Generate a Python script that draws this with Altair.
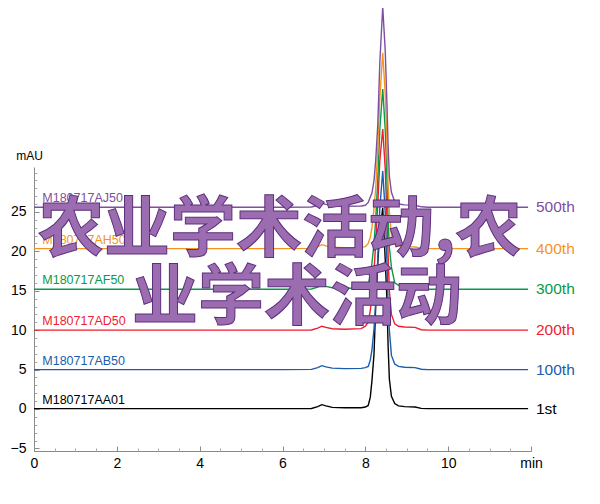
import altair as alt
import pandas as pd

# ---- data -------------------------------------------------------------
T = [0.0, 1.0, 2.0, 3.0, 4.0, 5.0, 6.0, 6.7, 6.85, 6.95, 7.05, 7.2, 7.5,
     7.9, 8.0, 8.07, 8.12, 8.16, 8.21, 8.25, 8.30, 8.35, 8.42, 8.48, 8.52,
     8.55, 8.58, 8.63, 8.71, 8.8, 8.95, 9.2, 9.35, 9.5, 10.0, 11.0, 11.93]

V_1ST = [0.05, 0.05, 0.05, 0.05, 0.05, 0.05, 0.05, 0.07, 0.3, 0.55, 0.4, 0.2, 0.15,
         0.15, 0.25, 0.45, 1.5, 3.6, 7.0, 13.0, 18.5, 22.5, 25.5, 19.0, 14.0,
         8.0, 3.8, 1.6, 0.7, 0.4, 0.3, 0.25, 0.08, 0.05, 0.05, 0.05, 0.05]
V_100 = [5.0, 5.0, 5.0, 5.0, 5.0, 5.0, 5.0, 5.02, 5.25, 5.5, 5.35, 5.18, 5.12,
         5.15, 5.25, 5.4, 6.2, 7.5, 10.2, 13.5, 19.0, 25.5, 30.2, 25.0, 19.0,
         13.5, 10.0, 6.8, 5.7, 5.4, 5.3, 5.25, 5.05, 5.0, 5.0, 5.0, 5.0]
V_200 = [10.0, 10.0, 10.0, 10.0, 10.0, 10.0, 10.0, 10.02, 10.25, 10.5, 10.35, 10.18, 10.12,
         10.2, 10.5, 11.0, 12.5, 14.5, 17.5, 21.0, 26.0, 31.5, 35.5, 30.5, 24.5,
         19.5, 15.0, 12.0, 10.8, 10.5, 10.4, 10.35, 10.05, 10.0, 10.0, 10.0, 10.0]
V_300 = [15.2, 15.2, 15.2, 15.2, 15.2, 15.2, 15.2, 15.22, 15.45, 15.7, 15.55, 15.38, 15.32,
         15.35, 15.5, 15.8, 17.0, 18.5, 21.0, 24.0, 29.0, 35.5, 40.6, 35.5, 29.5,
         24.0, 20.5, 18.0, 16.0, 15.7, 15.6, 15.5, 15.25, 15.2, 15.2, 15.2, 15.2]
V_400 = [20.35, 20.35, 20.35, 20.35, 20.35, 20.35, 20.35, 20.37, 20.6, 20.85, 20.7, 20.53, 20.47,
         20.5, 20.6, 21.0, 21.8, 23.0, 25.5, 28.0, 33.0, 39.5, 45.2, 40.0, 34.0,
         28.5, 25.0, 22.0, 20.9, 20.7, 20.6, 20.55, 20.4, 20.35, 20.35, 20.35, 20.35]
V_500 = [25.6, 25.6, 25.6, 25.6, 25.6, 25.6, 25.6, 25.62, 25.85, 26.1, 25.95, 25.78, 25.72,
         25.75, 25.85, 26.2, 26.9, 27.4, 29.0, 31.5, 36.0, 44.0, 51.0, 45.5, 39.0,
         33.5, 29.5, 27.5, 26.3, 26.0, 25.9, 25.85, 25.65, 25.6, 25.6, 25.6, 25.6]

SERIES = ["1st", "100th", "200th", "300th", "400th", "500th"]
SAMPLES = ["M180717AA01", "M180717AB50", "M180717AD50", "M180717AF50", "M180717AH50", "M180717AJ50"]
BASELINES = [0.05, 5.0, 10.0, 15.2, 20.35, 25.6]
COLORS = ["#000000", "#1a5dab", "#ee1d2f", "#0a9a48", "#f7941e", "#7f4f9f"]

X_LABELS = [0, 2, 4, 6, 8, 10, 12]
X_MINOR = [0.5, 1, 1.5, 2.5, 3, 3.5, 4.5, 5, 5.5, 6.5, 7, 7.5, 8.5, 9, 9.5, 10.5, 11, 11.5]
Y_LABELS = [-5, 0, 5, 10, 15, 20, 25]
Y_MINOR = [-4, -3, -2, -1, 1, 2, 3, 4, 6, 7, 8, 9, 11, 12, 13, 14, 16, 17, 18, 19,
           21, 22, 23, 24, 26, 27, 28, 29, 30]

WATERMARK_1 = "农业学术活动,农"
WATERMARK_2 = "业学术活动"

# ---- tables -------------------------------------------------------------
VALUES = [V_1ST, V_100, V_200, V_300, V_400, V_500]
rows = []
for s, vals in zip(SERIES, VALUES):
    for t, v in zip(T, vals):
        rows.append({"t": t, "v": v, "series": s})
df = pd.DataFrame(rows)

lab = pd.DataFrame({"series": SERIES, "sample": SAMPLES, "base": BASELINES})
lab["lx"] = 0.2
lab["rx"] = 12.0
one = pd.DataFrame({"t": [0.0], "v": [0.0]})

FONT = "Liberation Sans"
AXIS_GRAY = "#8a8a8a"
xs = alt.Scale(domain=[0, 12], nice=False, zero=False)
ys = alt.Scale(domain=[-5.33, 30.7], nice=False, zero=False)
col = alt.Color("series:N", scale=alt.Scale(domain=SERIES, range=COLORS), legend=None)

lines = alt.Chart(df).mark_line(strokeWidth=1.4).encode(
    x=alt.X("t:Q", scale=xs, axis=alt.Axis(
        orient="bottom", values=X_LABELS, ticks=False, grid=False,
        labelExpr="datum.value == 12 ? 'min' : datum.label",
        labelFlush=False, labelOverlap=False, labelFont=FONT, labelFontSize=14,
        labelColor="#000", labelPadding=5, domainColor=AXIS_GRAY, title=None)),
    y=alt.Y("v:Q", scale=ys, axis=alt.Axis(
        orient="left", values=Y_LABELS, ticks=False, grid=False,
        labelFont=FONT, labelFontSize=14, labelColor="#000", labelPadding=8,
        labelOverlap=False, domainColor=AXIS_GRAY,
        title="mAU", titleAngle=0, titleX=-5, titleY=-5, titleAlign="center",
        titleBaseline="bottom", titleFont=FONT, titleFontSize=12,
        titleFontWeight="normal", titleColor="#000")),
    color=col,
    detail="series:N",
)

major = alt.Chart(one).mark_point(opacity=0).encode(
    x=alt.X("t:Q", scale=xs, axis=alt.Axis(
        orient="bottom", values=X_LABELS, labels=False, domain=False, grid=False,
        tickSize=5, offset=-5, tickColor=AXIS_GRAY, title=None)),
    y=alt.Y("v:Q", scale=ys, axis=alt.Axis(
        orient="left", values=Y_LABELS, labels=False, domain=False, grid=False,
        tickSize=5, offset=-5, tickColor=AXIS_GRAY, title=None)),
)

minor = alt.Chart(one).mark_point(opacity=0).encode(
    x=alt.X("t:Q", scale=xs, axis=alt.Axis(
        orient="bottom", values=X_MINOR, labels=False, domain=False, grid=False,
        tickSize=3, offset=-3, tickColor="#aaaaaa", title=None)),
    y=alt.Y("v:Q", scale=ys, axis=alt.Axis(
        orient="left", values=Y_MINOR, labels=False, domain=False, grid=False,
        tickSize=3, offset=-3, tickColor="#aaaaaa", title=None)),
)

left_labels = alt.Chart(lab).mark_text(
    align="left", baseline="alphabetic", dy=-5, font=FONT, fontSize=12.5
).encode(
    x=alt.X("lx:Q", scale=xs, axis=None),
    y=alt.Y("base:Q", scale=ys, axis=None),
    text="sample:N",
    color=col,
)

right_labels = alt.Chart(lab).mark_text(
    align="left", baseline="middle", dx=5, font=FONT, fontSize=15.5
).encode(
    x=alt.X("rx:Q", scale=xs, axis=None),
    y=alt.Y("base:Q", scale=ys, axis=None),
    text="series:N",
    color=col,
)

wm_style = dict(align="left", baseline="alphabetic", font="Noto Sans CJK SC",
                fontSize=66, fontWeight="bold", fill="#9b6db0",
                stroke="#5e2e7e", strokeWidth=1)
wm1 = alt.Chart(pd.DataFrame({"w": [WATERMARK_1]})).mark_text(**wm_style).encode(
    x=alt.value(4), y=alt.value(84), text="w:N")
wm2 = alt.Chart(pd.DataFrame({"w": [WATERMARK_2]})).mark_text(**wm_style).encode(
    x=alt.value(98), y=alt.value(152), text="w:N")

chart = alt.layer(
    lines, major, minor, left_labels, right_labels, wm1, wm2
).resolve_axis(
    x="independent", y="independent"
).properties(
    width=497, height=284,
    padding={"left": 26, "top": 159, "right": 61, "bottom": 37},
    autosize=alt.AutoSizeParams(type="none"),
    background="white",
).configure_view(stroke=None)

chart.save("out.html", embed_options={"renderer": "svg", "actions": False})
